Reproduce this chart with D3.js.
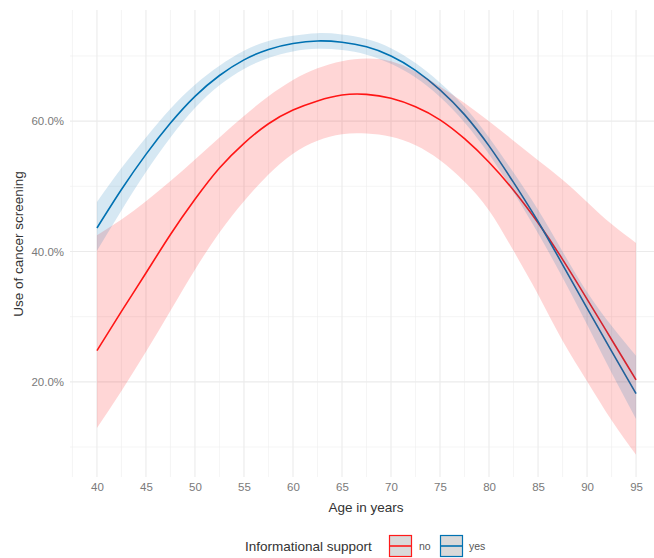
<!DOCTYPE html>
<html>
<head>
<meta charset="utf-8">
<script src="https://cdn.jsdelivr.net/npm/d3@7"></script>
<style>
  body { margin: 0; background: #fff; }
  text { font-family: "Liberation Sans", Arial, sans-serif; }
</style>
</head>
<body>
<script>
var ages = [40, 42.5, 45, 47.5, 50, 52.5, 55, 57.5, 60, 62.5, 65, 67.5,
            70, 72.5, 75, 77.5, 80, 82.5, 85, 87.5, 90, 92.5, 95];

// "no" group (percent)
var noFit   = [24.8, 30.8, 36.7, 42.6, 48.0, 52.8, 56.6, 59.6, 61.7, 63.1, 64.0, 64.1,
               63.5, 62.2, 60.2, 57.3, 53.7, 49.4, 44.4, 38.8, 32.7, 26.5, 20.3];
var noLow   = [12.9, 18.6, 24.6, 30.9, 37.2, 42.9, 47.7, 51.8, 55.0, 57.0, 58.0, 58.1,
               57.6, 56.3, 54.0, 50.7, 46.3, 40.1, 33.4, 26.3, 20.1, 14.1, 8.8];
var noHigh  = [42.5, 44.9, 47.7, 50.8, 54.1, 57.5, 60.8, 63.8, 66.3, 68.1, 69.2, 69.6,
               69.2, 67.6, 65.3, 62.8, 60.0, 57.0, 54.0, 51.0, 47.6, 44.2, 41.3];

// "yes" group (percent)
var yesFit  = [43.6, 49.5, 54.9, 59.7, 63.8, 67.0, 69.4, 71.0, 71.9, 72.3, 72.1, 71.4,
               70.0, 67.8, 64.8, 61.0, 56.2, 50.6, 44.6, 38.0, 31.3, 24.7, 18.2];
var yesLow  = [40.1, 46.3, 52.2, 57.5, 62.0, 65.5, 68.0, 69.7, 70.7, 71.1, 70.9, 70.2,
               68.8, 66.7, 63.7, 59.8, 54.9, 49.1, 42.8, 36.0, 28.8, 21.4, 14.3];
var yesHigh = [47.6, 52.8, 57.5, 61.9, 65.6, 68.5, 70.8, 72.3, 73.1, 73.5, 73.3, 72.6,
               71.2, 68.9, 65.9, 62.2, 57.5, 52.1, 46.4, 40.0, 33.8, 28.6, 24.0];

var xTicks = [40, 45, 50, 55, 60, 65, 70, 75, 80, 85, 90, 95];
var yTicks = [20, 40, 60];
var groups = ["no", "yes"];
var colors = {no: "#FF1A1A", yes: "#0072B2"};

var width = 654, height = 558;

var svg = d3.select("body").append("svg")
    .attr("width", width)
    .attr("height", height);

var x = d3.scaleLinear().domain([37.25, 97.75]).range([70, 663]);
var y = d3.scaleLinear().domain([5.4, 77.05]).range([477, 10]);

// grid
var minorX = d3.range(37.5, 98, 5);
var minorY = [10, 30, 50, 70];

var grid = svg.append("g");
grid.selectAll(".mx").data(minorX).enter().append("line")
    .attr("x1", d => x(d)).attr("x2", d => x(d))
    .attr("y1", 10).attr("y2", 477)
    .attr("stroke", "#EFEFEF").attr("stroke-width", 0.6);
grid.selectAll(".my").data(minorY).enter().append("line")
    .attr("x1", 70).attr("x2", 663)
    .attr("y1", d => y(d)).attr("y2", d => y(d))
    .attr("stroke", "#EFEFEF").attr("stroke-width", 0.6);
grid.selectAll(".gx").data(xTicks).enter().append("line")
    .attr("x1", d => x(d)).attr("x2", d => x(d))
    .attr("y1", 10).attr("y2", 477)
    .attr("stroke", "#EBEBEB").attr("stroke-width", 1.1);
grid.selectAll(".gy").data(yTicks).enter().append("line")
    .attr("x1", 70).attr("x2", 663)
    .attr("y1", d => y(d)).attr("y2", d => y(d))
    .attr("stroke", "#EBEBEB").attr("stroke-width", 1.1);

function rows(fit, lo, hi) {
    return ages.map(function(a, i) {
        return {age: a, fit: fit[i], lo: lo[i], hi: hi[i]};
    });
}
var series = {
    no: rows(noFit, noLow, noHigh),
    yes: rows(yesFit, yesLow, yesHigh)
};

var line = d3.line()
    .x(d => x(d.age))
    .y(d => y(d.fit))
    .curve(d3.curveNatural);

var area = d3.area()
    .x(d => x(d.age))
    .y0(d => y(d.lo))
    .y1(d => y(d.hi))
    .curve(d3.curveNatural);

// lines first, ribbons on top (as in the original)
groups.forEach(function(g) {
    svg.append("path")
        .datum(series[g])
        .attr("d", line)
        .attr("fill", "none")
        .attr("stroke", colors[g])
        .attr("stroke-width", 1.6);
});
groups.forEach(function(g) {
    svg.append("path")
        .datum(series[g])
        .attr("d", area)
        .attr("fill", g == "no" ? "#FF0000" : "#0072B2")
        .attr("fill-opacity", 0.16)
        .attr("stroke", "none");
});

// axis labels
var xAxis = d3.axisBottom(x).tickValues(xTicks).tickSize(0).tickPadding(0);
var gx = svg.append("g").attr("transform", "translate(0,483)").call(xAxis);
gx.select(".domain").remove();
gx.selectAll("text")
    .attr("dy", "0.71em")
    .attr("fill", "#7A7A7A")
    .style("font-size", "11.5px")
    .style("font-family", "Liberation Sans, Arial, sans-serif");

var yAxis = d3.axisLeft(y).tickValues(yTicks).tickSize(0).tickPadding(0)
    .tickFormat(d => d3.format(".1f")(d) + "%");
var gy = svg.append("g").attr("transform", "translate(64,0)").call(yAxis);
gy.select(".domain").remove();
gy.selectAll("text")
    .attr("fill", "#7A7A7A")
    .style("font-size", "11.5px")
    .style("font-family", "Liberation Sans, Arial, sans-serif");

svg.append("text")
    .attr("x", 366).attr("y", 512)
    .attr("text-anchor", "middle")
    .attr("fill", "#333")
    .style("font-size", "13.5px")
    .text("Age in years");

svg.append("text")
    .attr("transform", "translate(23,244) rotate(-90)")
    .attr("text-anchor", "middle")
    .attr("fill", "#333")
    .style("font-size", "13.5px")
    .text("Use of cancer screening");

// legend
var leg = svg.append("g");
leg.append("text")
    .attr("x", 245).attr("y", 551)
    .attr("fill", "#333")
    .style("font-size", "13.5px")
    .text("Informational support");

var keyX = {no: 389.5, yes: 440.5};
var labX = {no: 419, yes: 469};
groups.forEach(function(g) {
    leg.append("rect")
        .attr("x", keyX[g]).attr("y", 535.5)
        .attr("width", 22).attr("height", 21)
        .attr("fill", "#D9D9D9")
        .attr("stroke", colors[g])
        .attr("stroke-width", 1.2);
    leg.append("line")
        .attr("x1", keyX[g]).attr("x2", keyX[g] + 22)
        .attr("y1", 546).attr("y2", 546)
        .attr("stroke", colors[g])
        .attr("stroke-width", 1.6);
    leg.append("text")
        .attr("x", labX[g]).attr("y", 550)
        .attr("fill", "#555")
        .style("font-size", "10.5px")
        .text(g);
});
</script>
</body>
</html>
